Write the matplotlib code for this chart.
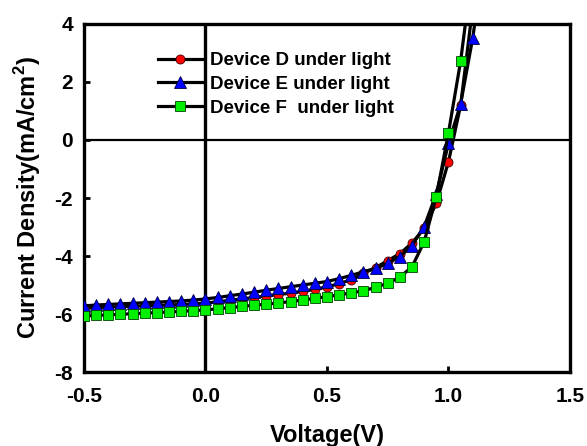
import matplotlib
matplotlib.use("Agg")
import matplotlib.pyplot as plt

plt.rcParams['font.family'] = ['Liberation Sans', 'DejaVu Sans']
plt.rcParams['font.weight'] = 'bold'
plt.rcParams['mathtext.fontset'] = 'custom'
plt.rcParams['mathtext.bf'] = 'Liberation Sans:bold'
plt.rcParams['mathtext.rm'] = 'Liberation Sans:bold'
plt.rcParams['axes.unicode_minus'] = False

# Voltage points (V)
volt_d = [-0.5, -0.45, -0.4, -0.35, -0.3, -0.25, -0.2, -0.15, -0.1, -0.05,
          0.0, 0.05, 0.1, 0.15, 0.2, 0.25, 0.3, 0.35, 0.4, 0.45,
          0.5, 0.55, 0.6, 0.65, 0.7, 0.75, 0.8, 0.85, 0.9, 0.95,
          1.0, 1.05, 1.1]
volt_e = volt_d + [1.15]
volt_f = volt_d

# Current density (mA/cm2)
dev_d = [-5.80, -5.78, -5.76, -5.75, -5.73, -5.72, -5.70, -5.69, -5.67, -5.65,
         -5.62, -5.58, -5.53, -5.48, -5.43, -5.38, -5.33, -5.28, -5.22, -5.15,
         -5.07, -4.95, -4.82, -4.60, -4.40, -4.16, -3.92, -3.55, -3.05, -2.18,
         -0.75, 1.20, 4.60]
dev_e = [-5.72, -5.69, -5.67, -5.65, -5.63, -5.61, -5.59, -5.57, -5.55, -5.52,
         -5.48, -5.43, -5.37, -5.31, -5.25, -5.18, -5.12, -5.06, -5.00, -4.94,
         -4.88, -4.78, -4.67, -4.54, -4.43, -4.25, -4.02, -3.64, -2.99, -1.85,
         -0.12, 1.24, 3.53, 6.50]
dev_f = [-6.07, -6.05, -6.03, -6.01, -5.99, -5.97, -5.95, -5.93, -5.91, -5.88,
         -5.86, -5.82, -5.78, -5.74, -5.70, -5.66, -5.62, -5.57, -5.52, -5.46,
         -5.40, -5.34, -5.27, -5.20, -5.08, -4.94, -4.73, -4.37, -3.51, -1.95,
         0.25, 2.72, 6.00]

labels = ["Device D under light", "Device E under light", "Device F  under light"]
x_ticks = [-0.5, 0.0, 0.5, 1.0, 1.5]
y_ticks = [-8, -6, -4, -2, 0, 2, 4]

fig = plt.figure(figsize=(5.87, 4.46), dpi=100)
ax = fig.add_axes([0.1431, 0.1659, 0.8279, 0.7803])

# zero lines
ax.axvline(0, color='black', lw=2.4, zorder=1)
ax.axhline(0, color='black', lw=1.6, zorder=1)

ax.plot(volt_d, dev_d, color='black', lw=2.3, marker='o', markersize=6.5,
        markerfacecolor='red', markeredgecolor='#400000', markeredgewidth=0.6,
        label=labels[0], zorder=3)
ax.plot(volt_e, dev_e, color='black', lw=2.3, marker='^', markersize=8,
        markerfacecolor='#0000ff', markeredgecolor='#000040', markeredgewidth=0.6,
        label=labels[1], zorder=4)
ax.plot(volt_f, dev_f, color='black', lw=2.3, marker='s', markersize=7,
        markerfacecolor='#00ee00', markeredgecolor='#004000', markeredgewidth=0.6,
        label=labels[2], zorder=5)

ax.set_xlim(-0.5, 1.5)
ax.set_ylim(-8, 4)
ax.set_xticks(x_ticks)
ax.set_yticks(y_ticks)
ax.set_xticklabels(['%.1f' % v for v in x_ticks])
ax.tick_params(direction='in', length=4, width=2, labelsize=15, pad=8)
ax.tick_params(axis='x', pad=11)
for lab in ax.get_xticklabels() + ax.get_yticklabels():
    lab.set_fontweight('bold')

for sp in ax.spines.values():
    sp.set_linewidth(2.4)

ax.set_xlabel('Voltage(V)', fontsize=17, fontweight='bold')
ax.set_ylabel(r'Current Density(mA/cm$^{\mathbf{2}}$)', fontsize=17, fontweight='bold')
ax.xaxis.set_label_coords(0.5, -0.148)
ax.yaxis.set_label_coords(-0.085, 0.5)

leg = ax.legend(loc='upper left', bbox_to_anchor=(0.136, 0.941), frameon=False,
                prop={'size': 13.5, 'weight': 'bold'}, handlelength=2.4,
                handletextpad=0.4, labelspacing=0.36, borderaxespad=0)

fig.savefig('out.png', dpi=100)
